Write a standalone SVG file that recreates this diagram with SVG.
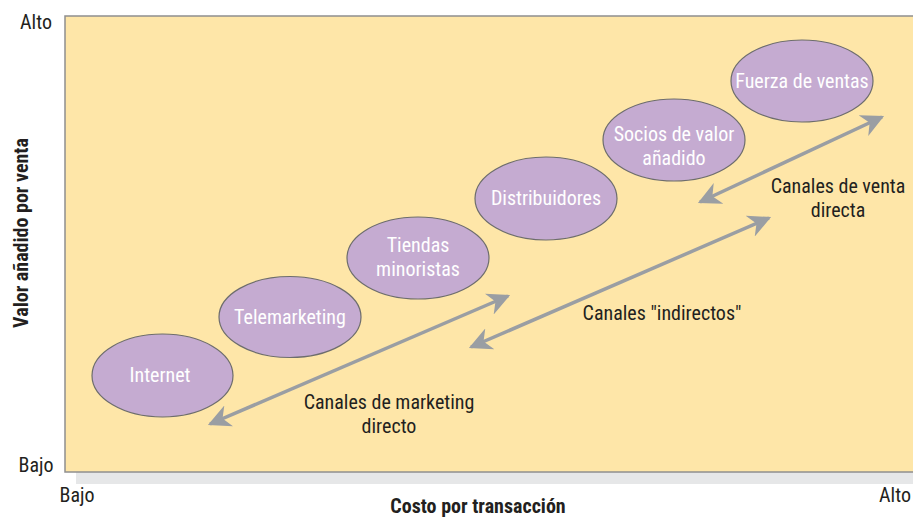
<svg xmlns="http://www.w3.org/2000/svg" width="913" height="518" viewBox="0 0 913 518">
<defs>
<style>
.t{font-family:"Liberation Sans Narrow","Roboto Condensed","Liberation Sans",Arial,sans-serif;font-size:20px;fill:#231f20;text-anchor:middle}
.n{fill:#ffffff}
.b{font-weight:bold}
.e{fill:#c5abd1;stroke:#6d6d6d;stroke-width:1.2}
.a{stroke:#9a9ea3;stroke-width:3.5;fill:none;marker-start:url(#h);marker-end:url(#h)}
</style>
<marker id="h" viewBox="0 0 10 10" refX="9" refY="5" markerWidth="6.5" markerHeight="6.5" orient="auto-start-reverse" markerUnits="strokeWidth">
<path d="M0,0 L10,5 L0,10 L3,5 Z" fill="#9a9ea3"/>
</marker>
</defs>
<rect x="76" y="472" width="837" height="12" fill="#e6e7e8"/>
<rect x="65" y="16" width="860" height="456" fill="#fee6a8" stroke="#8f8f8f" stroke-width="1.5"/>
<text class="t" x="36" y="29">Alto</text>
<text class="t" x="36" y="472">Bajo</text>
<text class="t" x="77" y="502">Bajo</text>
<text class="t" x="895" y="502">Alto</text>
<text class="t b" x="478" y="513">Costo por transacción</text>
<text class="t b" transform="translate(28,233) rotate(-90)">Valor añadido por venta</text>
<g id="connectors">
<line class="a" x1="508" y1="296" x2="210" y2="424"/>
<line class="a" x1="769" y1="218" x2="471" y2="347"/>
<line class="a" x1="882" y1="117" x2="700" y2="202"/>
</g>
<g id="internet"><ellipse class="e" cx="162.5" cy="375.5" rx="70.5" ry="41.5"/><text class="t n" x="160" y="382">Internet</text></g>
<g id="telemarketing"><ellipse class="e" cx="290" cy="317" rx="71" ry="40.5"/><text class="t n" x="290" y="324">Telemarketing</text></g>
<g id="tiendas"><ellipse class="e" cx="418" cy="258" rx="71" ry="41"/><text class="t n" x="418" y="252">Tiendas</text><text class="t n" x="418" y="276">minoristas</text></g>
<g id="distribuidores"><ellipse class="e" cx="546" cy="198.5" rx="71" ry="41.5"/><text class="t n" x="546" y="205">Distribuidores</text></g>
<g id="socios"><ellipse class="e" cx="674" cy="140" rx="71" ry="41"/><text class="t n" x="674" y="141">Socios de valor</text><text class="t n" x="674" y="165">añadido</text></g>
<g id="fuerza"><ellipse class="e" cx="802" cy="81" rx="71" ry="41"/><text class="t n" x="802" y="88">Fuerza de ventas</text></g>
<g id="labels">
<text class="t" x="389" y="409">Canales de marketing</text>
<text class="t" x="389" y="433">directo</text>
<text class="t" x="662" y="320">Canales "indirectos"</text>
<text class="t" x="838" y="193">Canales de venta</text>
<text class="t" x="838" y="217">directa</text>
</g>
</svg>
